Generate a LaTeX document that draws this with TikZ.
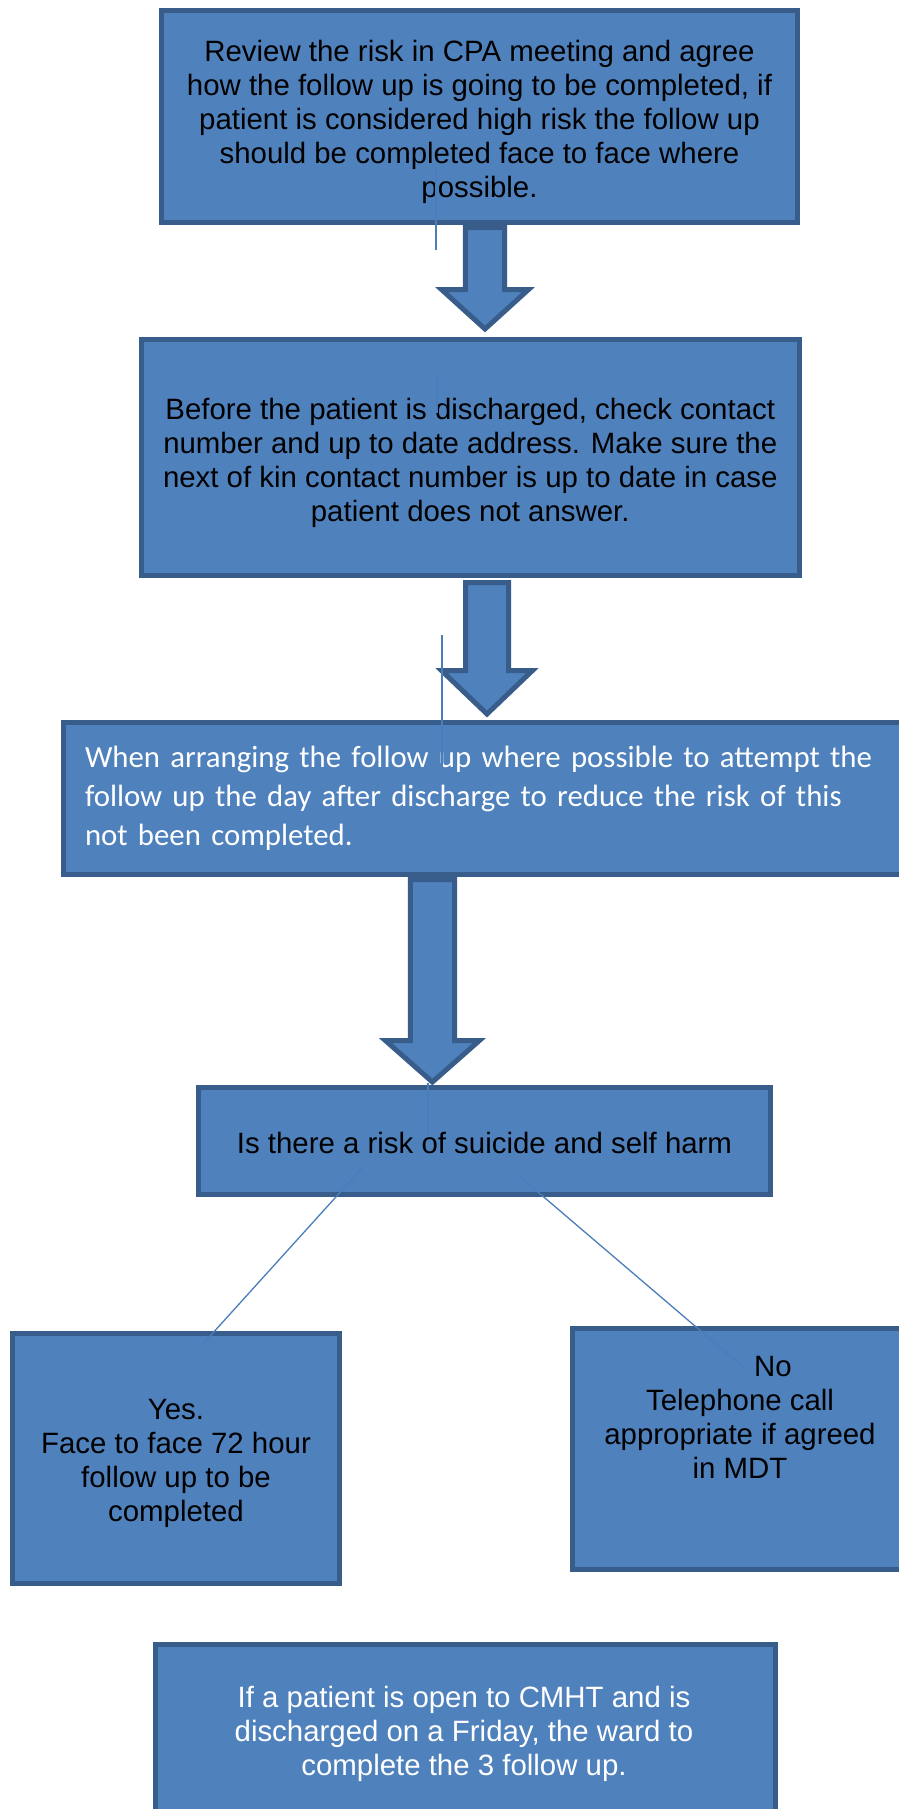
\documentclass[tikz,border=0pt]{standalone}
\usepackage{fontspec}
\setmainfont{Liberation Sans}
\newfontfamily\calibrifont{Carlito}
\usetikzlibrary{calc}
\definecolor{boxfill}{HTML}{4F81BD}
\definecolor{boxline}{HTML}{385D8A}
\definecolor{thinline}{HTML}{4A7EBB}
\tikzset{
  flowbox/.style={draw=boxline, fill=boxfill, line width=5pt, rectangle, inner sep=0pt, outer sep=0pt,
    text=black, font=\fontsize{29.4}{34}\selectfont, align=center},
  plaintext/.style={inner sep=0pt, outer sep=0pt, font=\fontsize{29.4}{34}\selectfont, align=center},
  barrow/.style={draw=boxline, fill=boxfill, line width=5pt, line join=miter},
  linkline/.style={draw=thinline, line width=1.3pt},
}
\newcommand\lowr[1]{\rule{0pt}{#1pt}}
\newcommand\blockarrow[5]{\draw[barrow] ($(#1)+(-#2,0)$) -- ($(#1)+(-#2,#4)$) -- ($(#1)+(-#3,#4)$) -- ($(#1)+(0,#5)$) -- ($(#1)+(#3,#4)$) -- ($(#1)+(#2,#4)$) -- ($(#1)+(#2,0)$) -- cycle;}
\begin{document}
\begin{tikzpicture}[x=1pt,y=-1pt]
\useasboundingbox (0,0) rectangle (899,1809);
\clip (0,0) rectangle (899,1809);
\fill[white] (0,0) rectangle (899,1809);

% boxes
\node[flowbox, minimum width=636, minimum height=211.5] (b1) at (479.5,116.75)
  {\lowr{32}Review the risk in CPA meeting and agree\\how the follow up is going to be completed, if\\patient is considered high risk the follow up\\should be completed face to face where\\possible.};
\node[flowbox, minimum width=658.5, minimum height=236] (b2) at (470.25,457.5)
  {\lowr{32}Before the patient is discharged, check contact\\number and up to date address. Make sure the\\next of kin contact number is up to date in case\\patient does not answer.};
\node[flowbox, minimum width=847, minimum height=152, inner xsep=22, text width=803, align=left,
  text=white, font=\calibrifont\fontsize{30.8}{39}\selectfont] (b3) at (486.5,798.5)
  {\mbox{When arranging the follow up where possible to attempt the}\\\mbox{follow up the day after discharge to reduce the risk of this}\\\mbox{not been completed.}};
\node[flowbox, minimum width=572, minimum height=107] (b4) at (484.5,1141)
  {\lowr{26}Is there a risk of suicide and self harm};
\node[flowbox, minimum width=327, minimum height=250] (yes) at (176,1458.5)
  {\lowr{29.5}Yes.\\Face to face 72 hour\\follow up to be\\completed};
\node[flowbox, minimum width=339.5, minimum height=241.5] (no) at (742.25,1448.75) {};
\node[plaintext] (notext) at (740,1417)
  {\hspace*{66pt}No\\Telephone call\\appropriate if agreed\\in MDT};
\node[flowbox, minimum width=620.5, minimum height=186] (b5) at (465.25,1737) {};
\node[plaintext, text=white] (b5text) at (464,1733.5)
  {If a patient is open to CMHT and is\\discharged on a Friday, the ward to\\complete the 3 follow up.};

% block arrows
\coordinate (a1) at ($(b1.south)+(5.5,5)$);
\blockarrow{a1}{19.6}{43.5}{62}{101.5}
\coordinate (a2) at ($(b2.south)+(16.75,7)$);
\blockarrow{a2}{21.5}{45.5}{88}{131.5}
\coordinate (a3) at ($(b3.south)+(-54.1,5)$);
\blockarrow{a3}{22.1}{47}{161}{202.5}

% thin connector lines
\coordinate (t1s) at (436,167);  \coordinate (t1e) at (436,250);
\coordinate (t2s) at (437,375);  \coordinate (t2e) at (437,413);
\coordinate (t3s) at (442,635);  \coordinate (t3e) at (442,767);
\coordinate (t4s) at (428,1083); \coordinate (t4e) at (428,1135);
\coordinate (ls) at (363,1167);  \coordinate (le) at (202,1345);
\coordinate (rs) at (518,1175);  \coordinate (re) at (743,1367);
\draw[linkline] (t1s) -- (t1e);
\draw[linkline] (t2s) -- (t2e);
\draw[linkline] (t3s) -- (t3e);
\draw[linkline] (t4s) -- (t4e);
\draw[linkline] (ls) -- (le);
\draw[linkline] (rs) -- (re);
\end{tikzpicture}
\end{document}
